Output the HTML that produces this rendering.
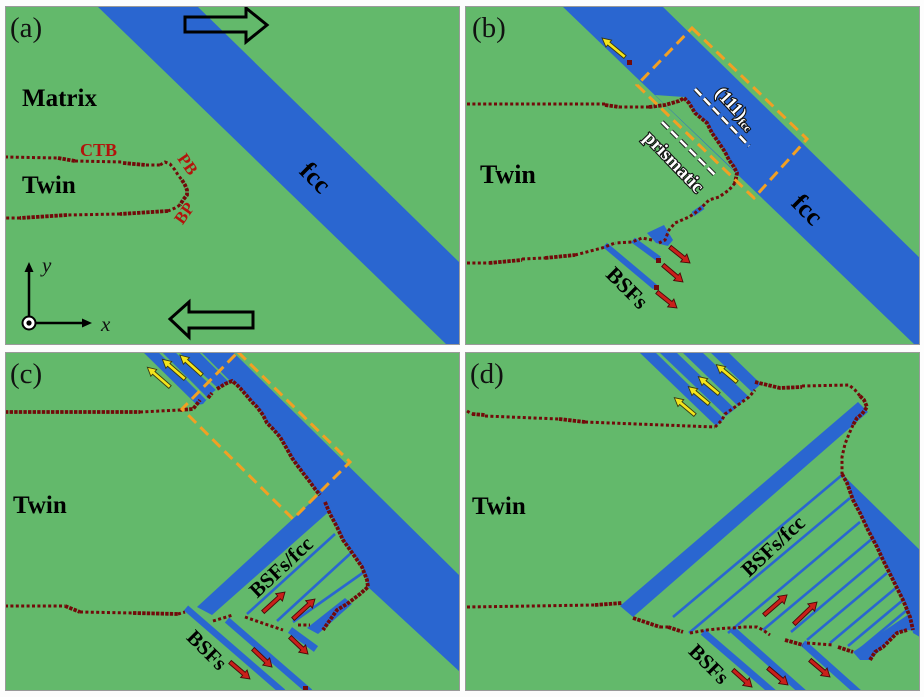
<!DOCTYPE html>
<html><head><meta charset="utf-8"><style>
html,body{margin:0;padding:0;background:#fff;}
svg{display:block;}
.dot{fill:none;stroke:#720a0a;stroke-width:3;stroke-dasharray:3 2.4;}
.bnd{fill:none;stroke:#720a0a;stroke-width:3.8;stroke-dasharray:3.4 1.2;}
.tl{stroke:#2a66d0;stroke-width:2.6;fill:none;}
.st{stroke:#2a66d0;stroke-width:6.5;fill:none;}
.ra path{fill:#c9201a;stroke:#4a0808;stroke-width:0.9;}
.ya path{fill:#f3e41c;stroke:#3a3a10;stroke-width:0.9;}
.lbl{font-family:"Liberation Serif",serif;font-weight:bold;fill:#000;}
.pl{font-family:"Liberation Serif",serif;fill:#111;font-size:29px;}
.wt{font-family:"Liberation Serif",serif;font-weight:bold;fill:#fff;stroke:#111;stroke-width:2.2;paint-order:stroke;}
.ob{fill:none;stroke:#f2a023;stroke-width:3;stroke-dasharray:11 6;}
</style></head><body>
<svg width="924" height="697" viewBox="0 0 924 697" xmlns="http://www.w3.org/2000/svg">
<defs>
<clipPath id="ca"><rect x="5" y="6" width="455" height="339"/></clipPath>
<clipPath id="cb"><rect x="465" y="6" width="455" height="339"/></clipPath>
<clipPath id="cc"><rect x="5" y="352" width="455" height="339"/></clipPath>
<clipPath id="cd"><rect x="465" y="352" width="455" height="339"/></clipPath>
</defs>
<rect width="924" height="697" fill="#fdfdfd"/>

<!-- ================= (a) ================= -->
<g clip-path="url(#ca)">
<rect x="5" y="6" width="455" height="339" fill="#63b96b"/>
<polygon points="97,6 197,6 460,263 460,345 447,345" fill="#2a66d0"/>
<path d="M185,17 H246 V8 L267,25 L246,42 V32 H185 Z" fill="none" stroke="#000" stroke-width="3" stroke-linejoin="miter"/>
<path d="M253,312 H189 V302 L170,319 L189,337 V328 H253 Z" fill="none" stroke="#000" stroke-width="3" stroke-linejoin="miter"/>
<polyline class="dot" points="5,157 58,158"/>
<polyline class="bnd" points="58,158 75,161"/>
<polyline class="dot" points="75,161 123,162"/>
<polyline class="bnd" points="123,163 146,165"/>
<polyline class="dot" points="146,165 160,165"/>
<polyline class="dot" points="160,165 165,162 170,164 175,170 178,175 182,180"/>
<polyline class="bnd" points="182,180 185,185 187,190 187,195 183,200 180,205"/>
<polyline class="dot" points="180,205 175,208 168,211"/>
<polyline class="bnd" points="168,211 120,214"/>
<polyline class="dot" points="120,214 67,215"/>
<polyline class="bnd" points="67,215 20,218"/>
<polyline class="dot" points="20,218 5,218"/>
<text class="pl" x="10" y="37">(a)</text>
<text class="lbl" x="22" y="106" font-size="25">Matrix</text>
<text class="lbl" x="22" y="193" font-size="25">Twin</text>
<text class="lbl" x="80" y="156" font-size="18" style="fill:#b3140c">CTB</text>
<text class="lbl" font-size="17" style="fill:#b3140c" text-anchor="middle" transform="translate(188,164) rotate(55)" dy="6">PB</text>
<text class="lbl" font-size="17" style="fill:#b3140c" text-anchor="middle" transform="translate(184,213) rotate(-55)" dy="6">BP</text>
<text class="lbl" font-size="26" text-anchor="middle" transform="translate(315,178) rotate(45)" dy="8">fcc</text>
<line x1="29" y1="323" x2="29" y2="270" stroke="#000" stroke-width="2.5"/>
<polygon points="29,262 24.5,272 33.5,272" fill="#000"/>
<line x1="29" y1="323" x2="84" y2="323" stroke="#000" stroke-width="2.5"/>
<polygon points="92,323 82,318.5 82,327.5" fill="#000"/>
<circle cx="29" cy="323" r="6.5" fill="#fff" stroke="#000" stroke-width="2"/>
<circle cx="29" cy="323" r="2.6" fill="#000"/>
<text x="42" y="272" font-family="Liberation Serif,serif" font-style="italic" font-size="21" fill="#111">y</text>
<text x="101" y="331" font-family="Liberation Serif,serif" font-style="italic" font-size="21" fill="#111">x</text>
</g>
<rect x="5.5" y="6.5" width="454" height="338" fill="none" stroke="#9a9a9a" stroke-width="1"/>

<!-- ================= (b) ================= -->
<g clip-path="url(#cb)">
<rect x="465" y="6" width="455" height="339" fill="#63b96b"/>
<polygon points="562,6 662,6 925,263 925,345 915,345" fill="#2a66d0"/>
<polygon points="655,95 684,97 689,103 695,113 707,123 712,133 719,143 725,152 729,160 734,167 738,174" fill="#63b96b"/>
<line class="st" x1="605" y1="245" x2="655" y2="287" style="stroke-width:6"/>
<line class="st" x1="633" y1="240" x2="659" y2="259" style="stroke-width:6"/>
<polygon points="647,233 664,225 673,240 668,246 656,243" fill="#2a66d0"/>
<line class="st" x1="693" y1="214" x2="703" y2="207" style="stroke-width:5"/>
<polyline class="dot" points="467,104 605,104"/>
<polyline class="bnd" points="605,105 619,107"/>
<polyline class="dot" points="619,107 649,107"/>
<polyline class="bnd" points="649,107 665,105 679,101 684,98"/>
<polyline class="bnd" points="684,98 689,103 695,113 707,123 712,133 719,143 725,152 729,160 734,167 737,173 735,183"/>
<polyline class="dot" points="735,183 729,190 719,197 709,200 702,207 695,213 689,217 675,223 669,230 665,240 659,243"/>
<polyline class="dot" points="652,240 642,238 632,242 615,243"/>
<polyline class="dot" points="467,263 489,263"/>
<polyline class="bnd" points="489,263 522,260"/>
<polyline class="dot" points="522,259 545,258"/>
<polyline class="bnd" points="545,258 575,255"/>
<polyline class="dot" points="575,255 602,248 615,243"/>
<rect x="627" y="60" width="5" height="5" fill="#720a0a"/>
<rect x="656" y="258" width="5" height="5" fill="#720a0a"/>
<rect x="654" y="285" width="5" height="5" fill="#720a0a"/>
<polygon class="ob" points="692,28 807,139 754,198 637,85"/>
<line x1="695" y1="89" x2="749" y2="146" stroke="#222" stroke-width="4.6" stroke-dasharray="9 4"/>
<line x1="695" y1="89" x2="749" y2="146" stroke="#fff" stroke-width="2.6" stroke-dasharray="9 4"/>
<line x1="662" y1="122" x2="717" y2="177" stroke="#222" stroke-width="4.6" stroke-dasharray="9 4"/>
<line x1="662" y1="122" x2="717" y2="177" stroke="#fff" stroke-width="2.6" stroke-dasharray="9 4"/>
<g class="ya"><g transform="translate(625,57) rotate(219.6)"><path d="M0,-1.8 H21 V-4.5 L29.8,0 L21,4.5 V1.8 H0 Z"/></g></g>
<g class="ra">
<g transform="translate(670,247) rotate(38.7)"><path d="M0,-2 H17.6 V-5 L25.6,0 L17.6,5 V2 H0 Z"/></g>
<g transform="translate(663,265) rotate(40.4)"><path d="M0,-2 H18.2 V-5 L26.2,0 L18.2,5 V2 H0 Z"/></g>
<g transform="translate(657,292) rotate(38.7)"><path d="M0,-2 H17.6 V-5 L25.6,0 L17.6,5 V2 H0 Z"/></g>
</g>
<text class="pl" x="472" y="37">(b)</text>
<text class="lbl" x="480" y="183" font-size="26">Twin</text>
<text class="lbl" font-size="26" text-anchor="middle" transform="translate(807,210) rotate(45)" dy="8">fcc</text>
<text class="lbl" font-size="22" text-anchor="middle" transform="translate(627,288) rotate(45)" dy="7">BSFs</text>
<text class="wt" font-size="18" text-anchor="middle" transform="translate(736,108) rotate(47)" dy="6">(111)<tspan font-size="11" dy="3">fcc</tspan></text>
<text class="wt" font-size="19" text-anchor="middle" transform="translate(674,162) rotate(46)" dy="6">prismatic</text>
</g>
<rect x="465.5" y="6.5" width="454" height="338" fill="none" stroke="#9a9a9a" stroke-width="1"/>

<!-- ================= (c) ================= -->
<g clip-path="url(#cc)">
<rect x="5" y="352" width="455" height="339" fill="#63b96b"/>
<polygon points="143,352 233,352 460,576 460,672 368,587 367,580 362,567 353,554 343,540 337,527 330,514 325,502 320,495 315,489 310,482 303,473 297,465 292,458 287,449 280,437 273,429 267,423 263,415 257,407 252,402 247,396 240,388 236,384 232,381 225,384 217,389 212,393 208,398 203,404 197,405" fill="#2a66d0"/>
<line x1="160" y1="352" x2="207" y2="399" stroke="#63b96b" stroke-width="2.6"/>
<line x1="177" y1="352" x2="219" y2="391" stroke="#63b96b" stroke-width="2.6"/>
<line x1="200" y1="352" x2="231" y2="383" stroke="#63b96b" stroke-width="1.6"/>
<polygon points="197,607 320,494 333,508 212,615" fill="#2a66d0"/>
<line class="tl" x1="247" y1="614" x2="335" y2="534"/>
<line class="tl" x1="277" y1="621" x2="351" y2="553"/>
<line class="tl" x1="293" y1="622" x2="364" y2="572"/>
<polygon points="307,628 345,598 352,604 318,634" fill="#2a66d0"/>
<line class="st" x1="186" y1="608" x2="283" y2="692"/>
<line class="st" x1="227" y1="620" x2="310" y2="692"/>
<line class="st" x1="290" y1="630" x2="316" y2="649" style="stroke-width:7"/>
<polyline class="bnd" points="5,412 140,412"/>
<polyline class="dot" points="140,412 180,410"/>
<polyline class="bnd" points="180,410 193,409 197,404 200,400"/>
<polyline class="bnd" points="208,398 212,393"/>
<polyline class="bnd" points="217,389 225,384 232,381 236,384 240,388 247,396 252,402 257,407 263,415 267,423 273,429 280,437 287,449 292,458 297,465 303,473 310,482 315,489 320,495"/>
<polyline class="bnd" points="325,502 330,514 337,527 343,540 353,554 362,567 367,580 368,587 360,594 347,604 337,610 330,620 323,630"/>
<polyline class="dot" points="5,606 65,606"/>
<polyline class="bnd" points="65,606 80,612"/>
<polyline class="dot" points="80,612 133,613"/>
<polyline class="bnd" points="133,613 178,614"/>
<polyline class="dot" points="178,614 185,612"/>
<polyline class="dot" points="213,621 233,615"/>
<polyline class="dot" points="245,617 265,624 283,630"/>
<polyline class="dot" points="298,625 310,625"/>
<rect x="303" y="686" width="5" height="5" fill="#720a0a"/>
<polygon class="ob" points="238,352 350,462 293,519 182,409"/>
<g class="ya">
<g transform="translate(170,387) rotate(221)"><path d="M0,-1.8 H21.5 V-4.5 L30,0 L21.5,4.5 V1.8 H0 Z"/></g>
<g transform="translate(185,379) rotate(221)"><path d="M0,-1.8 H21.5 V-4.5 L30,0 L21.5,4.5 V1.8 H0 Z"/></g>
<g transform="translate(202,375) rotate(222)"><path d="M0,-1.8 H21 V-4.5 L29.7,0 L21,4.5 V1.8 H0 Z"/></g>
</g>
<g class="ra">
<g transform="translate(263,612) rotate(-42.3)"><path d="M0,-2 H21.7 V-5 L29.7,0 L21.7,5 V2 H0 Z"/></g>
<g transform="translate(293,619) rotate(-42.3)"><path d="M0,-2 H21.7 V-5 L29.7,0 L21.7,5 V2 H0 Z"/></g>
<g transform="translate(230,662) rotate(40.4)"><path d="M0,-2 H18.2 V-5 L26.2,0 L18.2,5 V2 H0 Z"/></g>
<g transform="translate(253,649) rotate(43.5)"><path d="M0,-2 H18.2 V-5 L26.2,0 L18.2,5 V2 H0 Z"/></g>
<g transform="translate(290,637) rotate(43.4)"><path d="M0,-2 H16.8 V-5 L24.8,0 L16.8,5 V2 H0 Z"/></g>
</g>
<text class="pl" x="10" y="383">(c)</text>
<text class="lbl" x="13" y="513" font-size="25">Twin</text>
<text class="lbl" font-size="21" text-anchor="middle" transform="translate(281,567) rotate(-43)" dy="7">BSFs/fcc</text>
<text class="lbl" font-size="21" text-anchor="middle" transform="translate(207,650) rotate(45)" dy="7">BSFs</text>
</g>
<rect x="5.5" y="352.5" width="454" height="338" fill="none" stroke="#9a9a9a" stroke-width="1"/>

<!-- ================= (d) ================= -->
<g clip-path="url(#cd)">
<rect x="465" y="352" width="455" height="339" fill="#63b96b"/>
<polygon points="639,352 655,352 724,419 716,426" fill="#2a66d0"/>
<polygon points="659,352 676,352 735,409 726,416" fill="#2a66d0"/>
<polygon points="682,352 702,352 748,396 738,406" fill="#2a66d0"/>
<polygon points="710,352 728,352 761,384 752,392" fill="#2a66d0"/>
<polygon points="620,606 858,402 868,412 633,617" fill="#2a66d0"/>
<polygon points="842,474 925,555 925,640 913,633 910,617 903,600 893,580 883,560 877,547 868,530 860,513 853,500 847,483" fill="#2a66d0"/>
<polygon points="853,652 912,612 925,618 925,632 907,630 897,633 883,647 870,660 860,660" fill="#2a66d0"/>
<line class="tl" x1="673" y1="617" x2="842" y2="475"/>
<line class="tl" x1="689" y1="633" x2="850" y2="498"/>
<line class="tl" x1="728" y1="633" x2="860" y2="522"/>
<line class="tl" x1="763" y1="630" x2="873" y2="538"/>
<line class="tl" x1="791" y1="632" x2="880" y2="557"/>
<line class="tl" x1="807" y1="640" x2="887" y2="573"/>
<line class="tl" x1="830" y1="643" x2="897" y2="587"/>
<line class="tl" x1="848" y1="646" x2="903" y2="600"/>
<line class="tl" x1="859" y1="650" x2="907" y2="610"/>
<line class="st" x1="703" y1="632" x2="775" y2="694" style="stroke-width:7"/>
<line class="st" x1="733" y1="630" x2="805" y2="694" style="stroke-width:7"/>
<line class="st" x1="803" y1="643" x2="860" y2="694" style="stroke-width:7"/>
<polyline class="dot" points="467,411 472,414"/>
<polyline class="bnd" points="472,414 485,415"/>
<polyline class="dot" points="485,416 559,419"/>
<polyline class="bnd" points="559,419 585,422"/>
<polyline class="dot" points="585,422 715,427"/>
<polyline class="dot" points="715,427 719,423 722,420 725,414 735,407 742,402 749,397 755,390"/>
<polyline class="bnd" points="755,382 780,388 802,387"/>
<polyline class="dot" points="802,386 849,385 855,390 860,396"/>
<polyline class="bnd" points="860,396 864,400 867,407 862,414 857,418 853,425"/>
<polyline class="dot" points="853,425 849,434 845,444 842,457 842,474"/>
<polyline class="bnd" points="842,474 847,483 853,500 860,513 868,530 877,547 883,560 893,580 903,600 910,617 913,630"/>
<polyline class="dot" points="467,607 595,605"/>
<polyline class="bnd" points="595,605 622,603"/>
<polyline class="bnd" points="633,618 645,622 660,627"/>
<polyline class="dot" points="660,627 668,627"/>
<polyline class="bnd" points="668,627 683,632"/>
<polyline class="dot" points="690,633 707,630 727,628 733,628 743,627 757,627 763,630 770,635"/>
<polyline class="bnd" points="785,640 803,645"/>
<polyline class="dot" points="807,643 833,645"/>
<polyline class="bnd" points="838,647 853,652"/>
<polyline class="bnd" points="870,660 875,652 883,647 890,640 897,633 907,630"/>
<g class="ya">
<g transform="translate(695,415) rotate(220)"><path d="M0,-1.8 H18.5 V-4.5 L27,0 L18.5,4.5 V1.8 H0 Z"/></g>
<g transform="translate(709,404) rotate(220)"><path d="M0,-1.8 H18.5 V-4.5 L27,0 L18.5,4.5 V1.8 H0 Z"/></g>
<g transform="translate(719,394) rotate(220)"><path d="M0,-1.8 H18.5 V-4.5 L27,0 L18.5,4.5 V1.8 H0 Z"/></g>
<g transform="translate(737,382) rotate(220)"><path d="M0,-1.8 H18.5 V-4.5 L27,0 L18.5,4.5 V1.8 H0 Z"/></g>
</g>
<g class="ra">
<g transform="translate(764,615) rotate(-41)"><path d="M0,-2 H22.5 V-5 L30.5,0 L22.5,5 V2 H0 Z"/></g>
<g transform="translate(794,624) rotate(-43.7)"><path d="M0,-2 H23.8 V-5 L31.8,0 L23.8,5 V2 H0 Z"/></g>
<g transform="translate(733,670) rotate(41.8)"><path d="M0,-2 H17.5 V-5 L25.5,0 L17.5,5 V2 H0 Z"/></g>
<g transform="translate(768,668) rotate(40.4)"><path d="M0,-2 H18.2 V-5 L26.2,0 L18.2,5 V2 H0 Z"/></g>
<g transform="translate(810,660) rotate(40.4)"><path d="M0,-2 H18.2 V-5 L26.2,0 L18.2,5 V2 H0 Z"/></g>
</g>
<text class="pl" x="470" y="383">(d)</text>
<text class="lbl" x="472" y="514" font-size="25">Twin</text>
<text class="lbl" font-size="21" text-anchor="middle" transform="translate(773,546) rotate(-43)" dy="7">BSFs/fcc</text>
<text class="lbl" font-size="21" text-anchor="middle" transform="translate(709,664) rotate(45)" dy="7">BSFs</text>
</g>
<rect x="465.5" y="352.5" width="454" height="338" fill="none" stroke="#9a9a9a" stroke-width="1"/>
</svg>
</body></html>
